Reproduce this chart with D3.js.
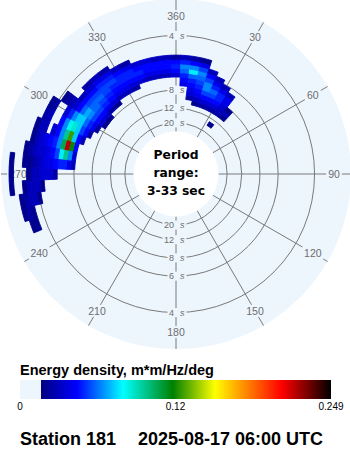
<!DOCTYPE html>
<html><head><meta charset="utf-8">
<script src="https://cdn.jsdelivr.net/npm/d3@7"></script>
<style>html,body{margin:0;padding:0;background:#fff;}svg{display:block}</style>
</head><body><svg id="c" width="350" height="450"></svg>
<script>
// ---------- data ----------
const angleTicks = [0,30,60,90,120,150,180,210,240,270,300,330];
const angleLabels = ["360","30","60","90","120","150","180","210","240","270","300","330"];
const periodRings = [4,6,8,12,20];
const periodDigits = ["4","6","8","12","20"];
const periodRange = [3,33];
const freqStep = 0.01;
const dirStep = 5;
const directions = [250,255,260,265,270,275,280,285,290,295,300,305,310,315,320,325,330,335,340,345,350,355,0,5,10,15,20,25,30,35,40];
const freqStart  = [0.27,0.27,0.25,0.24,0.21,0.17,0.17,0.17,0.16,0.15,0.14,0.13,0.13,0.14,0.14,0.15,0.15,0.15,0.16,0.16,0.16,0.16,0.16,0.11,0.11,0.10,0.10,0.10,0.10,0.07,0.10];
const energyRows = [
  [0.02,0.02],
  [0.02,0.025,0.02],
  [0.02,0.03,0.03,0.025,0.02],
  [0.02,0.03,0.03,0.03,0.02,0,0,0.02],
  [0.025,0.035,0.035,0.035,0.03,0.03,0.02,0,0,0,0.02],
  [0.03,0.04,0.05,0.05,0.046,0.04,0.04,0.035,0.03,0.025,0.02,0.02,0,0,0.02],
  [0.035,0.065,0.10,0.08,0.055,0.046,0.04,0.035,0.035,0.03,0.025,0.02],
  [0.046,0.12,0.22,0.11,0.065,0.05,0.046,0.04,0.035,0.03,0.02],
  [0.03,0.046,0.075,0.13,0.10,0.065,0.046,0.035,0,0.03,0.03,0.02],
  [0.025,0.046,0.055,0.075,0.09,0.085,0.065,0.046,0,0,0.03,0.025],
  [0.025,0.04,0.05,0.06,0.075,0.075,0.065,0.05,0.035,0,0,0.025,0.02],
  [0.02,0.035,0.046,0.055,0.065,0.07,0.06,0.046,0.035,0.03,0.025,0.02],
  [0.02,0.035,0.046,0.055,0.06,0.06,0.055,0.046,0.03],
  [0.025,0.04,0.05,0.055,0.06,0.055,0.046,0.035,0.025],
  [0.02,0.035,0.046,0.05,0.055,0.055,0.05,0.04,0.03],
  [0.03,0.04,0.046,0.05,0.055,0.05,0.04,0.025],
  [0.03,0.04,0.046,0.05,0.05,0.046,0.03],
  [0.025,0.035,0.046,0.05,0.05,0.04,0.025],
  [0.035,0.046,0.05,0.046,0.035],
  [0.03,0.04,0.046,0.046,0.035],
  [0.03,0.04,0.046,0.046,0.03],
  [0.03,0.04,0.046,0.046,0.03],
  [0.035,0.046,0.05,0.046,0.025],
  [0,0,0,0.04,0.046,0.05,0.06,0.065,0.05,0.03],
  [0.025,0.035,0.04,0.046,0.05,0.06,0.08,0.065,0.046,0.025],
  [0.02,0.03,0.04,0.046,0.05,0.055,0.06,0.065,0.055,0.04,0.02],
  [0.025,0.035,0.046,0.055,0.065,0.065,0.055,0.046,0.03],
  [0.025,0.035,0.046,0.055,0.06,0.05,0.04,0.03],
  [0.025,0.035,0.046,0.05,0.05,0.04,0.03],
  [0.02,0,0,0.025,0.03,0.035,0.04,0.04,0.03],
  [0.02,0.03,0.02]
];
const energyMax = 0.249;
const energyFloor = 0.0168;
const colorPositions = [0,0.124,0.283,0.455,0.6,0.69,0.83,1];
const colorValues = ["#000080","#0000ff","#00ffff","#008000","#ffff00","#ff9900","#ff0000","#000000"];
const colorbarTicks = [0,0.1245,0.249];
const colorbarTickLabels = ["0","0.12","0.249"];
const centerLines = ["Period","range:","3-33 sec"];
const legendTitle = "Energy density, m*m/Hz/deg";
const stationText = "Station 181";
const dateText = "2025-08-17 06:00 UTC";

// ---------- drawing ----------
const discColor = "#edf5fd", gridColor = "#7a7a7a", labelColor = "#6e6e6e";
const cx = 176, cy = 174;
const svg = d3.select("#c");
const rScale = d3.scaleLinear().domain([1/periodRange[1], 1/periodRange[0]]).range([42.5, 175]);
const rInner = rScale(1/periodRange[1]), rOuter = rScale(1/periodRange[0]);
const rad = d => d*Math.PI/180;
const color = d3.scaleLinear()
  .domain(colorPositions.map(p => energyFloor + p*(energyMax-energyFloor)))
  .range(colorValues).clamp(true);

const g = svg.append("g").attr("transform", `translate(${cx},${cy})`);
g.append("circle").attr("r", rOuter).attr("fill", discColor);

// rings
g.append("g").selectAll("circle").data(periodRings).join("circle")
  .attr("r", p => rScale(1/p)).attr("fill","none").attr("stroke", gridColor).attr("stroke-width",1);

// angle labels
const rLab = 158;
const angTexts = g.append("g").selectAll("text").data(angleTicks).join("text")
  .attr("x", d => rLab*Math.sin(rad(d)))
  .attr("y", d => -rLab*Math.cos(rad(d)))
  .attr("dy", "0.36em").attr("text-anchor","middle")
  .attr("font-family","Liberation Sans, Arial, sans-serif").attr("font-size", 10.5)
  .attr("fill", labelColor)
  .text((d,i) => angleLabels[i]);

// radial lines with gaps around the angle labels
const radG = g.append("g");
angTexts.each(function(d){
  const bb = this.getBBox();
  const hw = bb.width/2 + 2, hh = bb.height/2;
  const s = Math.abs(Math.sin(rad(d))), c = Math.abs(Math.cos(rad(d)));
  const t = Math.min(s > 1e-6 ? hw/s : 1e9, c > 1e-6 ? hh/c : 1e9);
  [[rInner, rLab - t],[rLab + t, rOuter]].forEach(([a,b]) => {
    radG.append("line")
      .attr("x1", a*Math.sin(rad(d))).attr("y1", -a*Math.cos(rad(d)))
      .attr("x2", b*Math.sin(rad(d))).attr("y2", -b*Math.cos(rad(d)))
      .attr("stroke", gridColor).attr("stroke-width",1);
  });
});

// period labels at top and bottom (boxes break the grid lines)
const perG = g.append("g");
[-1, 1].forEach(side => {
  periodRings.forEach((p, i) => {
    const y = side*rScale(1/p);
    const lg = perG.append("g");
    const bg = lg.append("rect").attr("fill", discColor);
    const t1 = lg.append("text").attr("x", -2).attr("y", y).attr("dy","0.35em")
      .attr("text-anchor","end").attr("font-family","Liberation Sans, Arial, sans-serif")
      .attr("font-size",9).attr("fill",labelColor).text(periodDigits[i]);
    const t2 = lg.append("text").attr("x", 4).attr("y", y).attr("dy","0.35em")
      .attr("text-anchor","start").attr("font-family","Liberation Sans, Arial, sans-serif")
      .attr("font-style","italic")
      .attr("font-size",9).attr("fill",labelColor).text("s");
    const b1 = t1.node().getBBox(), b2 = t2.node().getBBox();
    bg.attr("x", b1.x - 1.5).attr("y", y - 4.5).attr("width", b2.x + b2.width - b1.x + 3).attr("height", 9);
  });
});

// spectrum cells (on top of the grid)
const cells = [];
directions.forEach((dir, i) => {
  energyRows[i].forEach((v, j) => {
    if (v > energyFloor) cells.push({dir, f: freqStart[i] + j*freqStep, v});
  });
});
const arc = d3.arc();
g.append("g").selectAll("path").data(cells).join("path")
  .attr("d", d => arc({
    innerRadius: Math.max(rInner, rScale(d.f - freqStep/2)),
    outerRadius: Math.min(rOuter, rScale(d.f + freqStep/2)),
    startAngle: rad(d.dir - dirStep/2), endAngle: rad(d.dir + dirStep/2)}))
  .attr("fill", d => color(d.v)).attr("stroke", d => color(d.v)).attr("stroke-width", 0.9)
  .attr("stroke-linejoin","round");

// inner white circle and text
g.append("circle").attr("r", rInner).attr("fill", "#fff");
g.append("g").selectAll("text").data(centerLines).join("text")
  .attr("x", 0).attr("y", (d,i) => -15 + i*18)
  .attr("text-anchor","middle").attr("font-family","DejaVu Sans, sans-serif")
  .attr("font-weight","bold").attr("font-size",12.3).attr("fill","#000")
  .text(d => d);

// ---------- colour bar ----------
const cbX = d3.scaleLinear().domain([0, energyMax]).range([20, 331]);
const cbY = 380, cbH = 19;
svg.append("text").attr("x", 20).attr("y", 375)
  .attr("font-family","Liberation Sans, Arial, sans-serif").attr("font-weight","bold")
  .attr("font-size",14.5).attr("fill","#000").text(legendTitle);
const defs = svg.append("defs");
const grad = defs.append("linearGradient").attr("id","cbgrad").attr("x1","0%").attr("x2","100%");
grad.selectAll("stop").data(colorPositions).join("stop")
  .attr("offset", d => (d*100)+"%").attr("stop-color", (d,i) => colorValues[i]);
svg.append("rect").attr("x", cbX(0)).attr("y", cbY).attr("width", cbX(energyFloor)-cbX(0)).attr("height", cbH).attr("fill", discColor);
svg.append("rect").attr("x", cbX(energyFloor)).attr("y", cbY).attr("width", cbX(energyMax)-cbX(energyFloor)).attr("height", cbH).attr("fill","url(#cbgrad)");
svg.append("g").selectAll("text").data(colorbarTicks).join("text")
  .attr("x", d => cbX(d)).attr("y", 410).attr("text-anchor","middle")
  .attr("font-family","Liberation Sans, Arial, sans-serif").attr("font-size",10).attr("fill","#000")
  .text((d,i) => colorbarTickLabels[i]);

// ---------- footer ----------
svg.append("text").attr("x",20).attr("y",445).attr("font-family","Liberation Sans, Arial, sans-serif")
  .attr("font-weight","bold").attr("font-size",18).attr("fill","#000").text(stationText);
svg.append("text").attr("x",138).attr("y",445).attr("font-family","Liberation Sans, Arial, sans-serif")
  .attr("font-weight","bold").attr("font-size",18).attr("fill","#000").text(dateText);
</script></body></html>
